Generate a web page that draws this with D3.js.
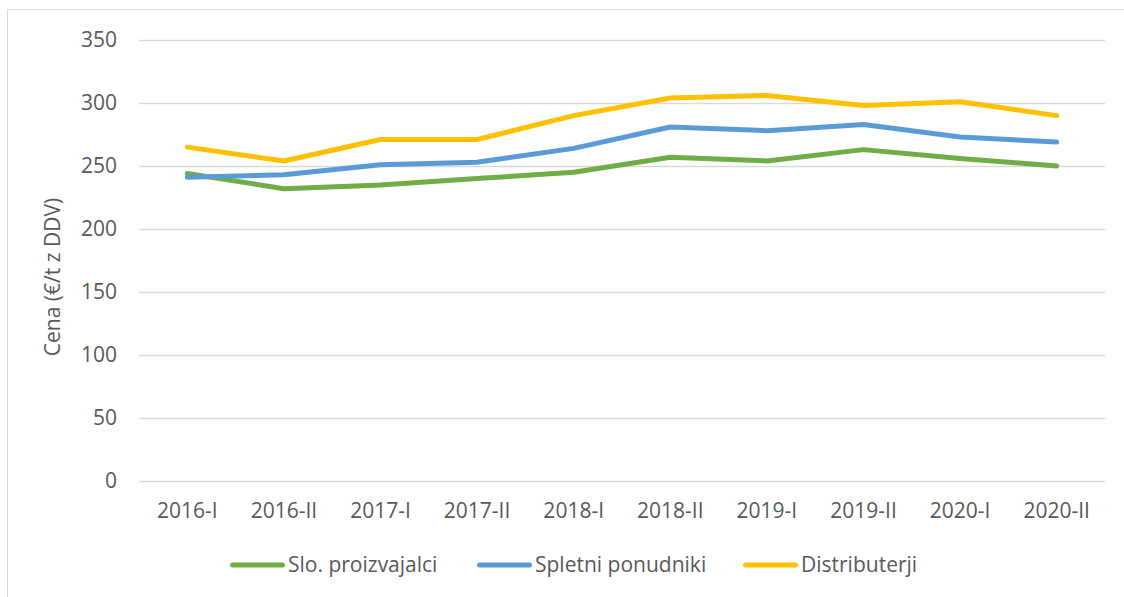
<!DOCTYPE html>
<html><head><meta charset="utf-8">
<script src="https://cdn.jsdelivr.net/npm/d3@7"></script>
<style>body{margin:0;background:#fff}svg{display:block}text{font-family:"Open Sans",sans-serif;fill:#595959}</style>
</head><body><svg id="c" width="1124" height="597"></svg>
<script>
const categories = ["2016-I","2016-II","2017-I","2017-II","2018-I","2018-II","2019-I","2019-II","2020-I","2020-II"];
const sloProizvajalci = [244,232,235,240,245,257,254,263,256,250];
const spletniPonudniki = [241,243,251,253,264,281,278,283,273,269];
const distributerji = [265,254,271,271,290,304,306,298,301,290];
const yTicks = [0,50,100,150,200,250,300,350];
const seriesNames = ["Slo. proizvajalci","Spletni ponudniki","Distributerji"];
const seriesColors = ["#70AD47","#5B9BD5","#FFC000"];
const seriesData = [sloProizvajalci, spletniPonudniki, distributerji];

const FS = 21;
const svg = d3.select("#c");
svg.append("rect").attr("x",7.5).attr("y",9.5).attr("width",1130).attr("height",600)
  .attr("fill","none").attr("stroke","#D9D9D9");

const x = d3.scaleBand().domain(categories).range([139,1105]);
const y = d3.scaleLinear().domain([0,350]).range([481,40]);

const gy = svg.append("g").attr("transform","translate(139,0)")
  .call(d3.axisLeft(y).tickValues(yTicks).tickSize(-966).tickPadding(22));
gy.select(".domain").remove();
gy.selectAll("line").attr("stroke","#D9D9D9").attr("stroke-width",1.3);
gy.selectAll("text").attr("font-size",FS).style("fill","#595959");

const gx = svg.append("g").attr("transform","translate(0,481)")
  .call(d3.axisBottom(x).tickSize(0).tickPadding(22));
gx.select(".domain").remove();
gx.selectAll("text").attr("font-size",FS).style("fill","#595959");

svg.append("text").attr("transform","translate(53,277) rotate(-90)")
  .attr("text-anchor","middle").attr("dy","0.35em").attr("font-size",FS).text("Cena (€/t z DDV)");

const line = d3.line().x((d,i)=>x(categories[i])+x.bandwidth()/2).y(d=>y(d));
seriesData.forEach((s,k)=>{
  svg.append("path").datum(s).attr("d",line).attr("fill","none")
    .attr("stroke",seriesColors[k]).attr("stroke-width",5).attr("stroke-linecap","round").attr("stroke-linejoin","round");
});

const legX = [232.5,479.5,745.5];
seriesNames.forEach((n,k)=>{
  const g = svg.append("g").attr("transform",`translate(${legX[k]},565)`);
  g.append("line").attr("x1",0).attr("x2",50).attr("stroke",seriesColors[k]).attr("stroke-width",5).attr("stroke-linecap","round");
  g.append("text").attr("x",55.5).attr("dy","0.35em").attr("font-size",FS).text(n);
});
</script></body></html>
